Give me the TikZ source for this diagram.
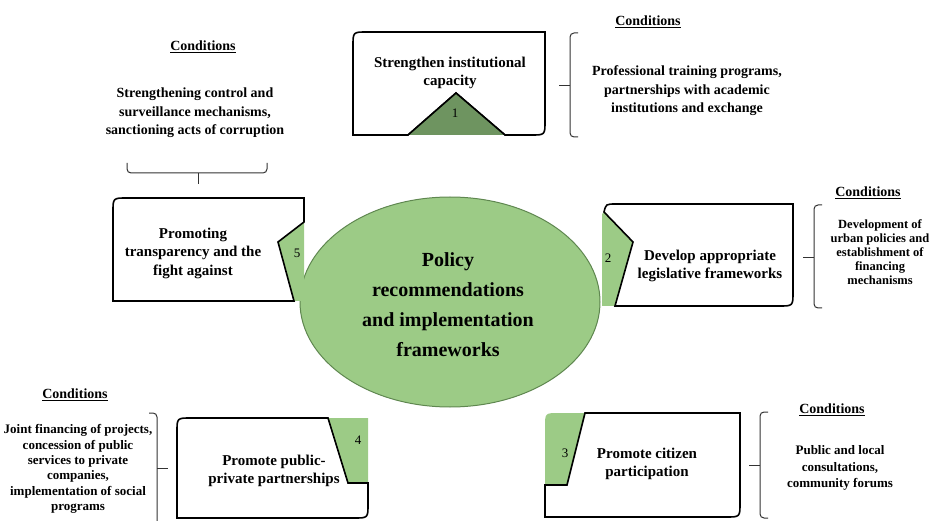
\documentclass[tikz,border=0pt]{standalone}
\usepackage{fontspec}
\setmainfont{Liberation Serif}
\usetikzlibrary{shapes.geometric}
\definecolor{lgreen}{RGB}{156,203,134}
\definecolor{dgreen}{RGB}{110,148,96}
\definecolor{egreen}{RGB}{95,135,80}
\newcommand\mybrcv[5]{% x, top, mid, bottom, hook dir(+1 = hooks right)
  \draw[brc] (#1+8*#5,#2) -- (#1,#2) -- (#1,#4) -- (#1+8*#5,#4);
  \draw[brc] (#1,#3) -- (#1-11*#5,#3);}
\begin{document}
\begin{tikzpicture}[x=1pt,y=-1pt,
  boxline/.style={draw=black, line width=1.6pt, fill=white, line join=miter},
  greenfill/.style={fill=lgreen},
  brc/.style={draw=black!80, line width=1pt, rounded corners=4pt},
  lbl/.style={font=\bfseries\fontsize{15}{18.5}\selectfont, align=center, inner sep=0pt},
  cond/.style={font=\bfseries\fontsize{14}{18.5}\selectfont, align=center, inner sep=0pt},
  ctitle/.style={font=\bfseries\fontsize{14}{17}\selectfont, inner sep=0pt},
  num/.style={font=\fontsize{13}{15}\selectfont, inner sep=0pt}]
\useasboundingbox (0,0) rectangle (932,521);

% central ellipse
\node[ellipse, minimum width=300pt, minimum height=210pt, fill=lgreen, draw=egreen, line width=1pt] (center) at (450,302) {};
\node[font=\bfseries\fontsize{20}{30}\selectfont, align=center, inner sep=0pt] (ctext) at (448,305)
  {Policy\\recommendations\\and implementation\\frameworks};

% box 1
\draw[boxline] (408,135) -- (353,135) -- (353,46) .. controls (353,32) .. (367,32) -- (545,32) -- (545,121) .. controls (545,135) .. (531,135) -- (505,135) -- (456,93) -- cycle;
\fill[dgreen] (408,135) -- (456,93) -- (505,135) -- cycle;
\draw[line width=1.6pt, line join=miter] (408,135) -- (456,93) -- (505,135);
\node[lbl] (b1) at (450,73) {Strengthen institutional\\capacity};
\node[num] (n1) at (455,113) {1};

% box 2
\fill[greenfill] (604,212) -- (633,242) -- (615,306) -- (602,306) -- (602,214) -- cycle;
\draw[boxline] (615,306) -- (633,242) -- (604,212) .. controls (606,204) .. (616,204) -- (793,204) -- (793,292) .. controls (793,306) .. (779,306) -- cycle;
\node[lbl] (b2) at (710,266) {Develop appropriate\\legislative frameworks};
\node[num] (n2) at (608,258) {2};

% box 3
\fill[greenfill] (585,413) -- (567,485) -- (545,485) -- (545,427) .. controls (545,413) .. (559,413) -- cycle;
\draw[boxline] (585,413) -- (740,413) -- (740,503) .. controls (740,517) .. (726,517) -- (545,517) -- (545,485) -- (567,485) -- cycle;
\node[lbl] (b3) at (647,464) {Promote citizen\\participation};
\node[num] (n3) at (565,453) {3};

% box 4
\fill[greenfill] (328,418) -- (368,418) -- (368,483) -- (348,483) -- cycle;
\draw[boxline] (328,418) -- (191,418) .. controls (177,418) .. (177,432) -- (177,518) -- (354,518) .. controls (368,518) .. (368,504) -- (368,483) -- (348,483) -- cycle;
\node[lbl] (b4) at (274,471) {Promote public-\\private partnerships};
\node[num] (n4) at (358,440) {4};

% box 5
\fill[greenfill] (304,222) -- (278,242) -- (294,301) -- (304,301) -- cycle;
\draw[boxline] (304,222) -- (304,198) -- (127,198) .. controls (113,198) .. (113,212) -- (113,301) -- (294,301) -- (278,242) -- cycle;
\node[lbl] (b5) at (193,253) {Promoting\\transparency and the\\fight against};
\node[num] (n5) at (297,253) {5};

% conditions 1
\node[ctitle] (t1) at (648,22) {\underline{Conditions}};
\node[cond] (c1) at (687,91) {Professional training programs,\\partnerships with academic\\institutions and exchange};
\mybrcv{570}{33}{86}{137}{1}

% conditions 2
\node[ctitle] (t2) at (868,193) {\underline{Conditions}};
\node[cond, font=\bfseries\fontsize{12.5}{14}\selectfont] (c2) at (880,252) {Development of\\urban policies and\\establishment of\\financing\\mechanisms};
\mybrcv{814}{205}{258}{308}{1}

% conditions 3
\node[ctitle] (t3) at (832,410) {\underline{Conditions}};
\node[cond, font=\bfseries\fontsize{13}{16.5}\selectfont] (c3) at (840,468) {Public and local\\consultations,\\community forums};
\mybrcv{760}{412}{465}{518}{1}

% conditions 4
\node[ctitle] (t4) at (75,395) {\underline{Conditions}};
\node[cond, font=\bfseries\fontsize{13}{15.3}\selectfont] (c4) at (78,469) {Joint financing of projects,\\concession of public\\services to private\\companies,\\implementation of social\\programs};
\mybrcv{157}{413}{468}{530}{-1}

% conditions 5
\node[ctitle] (t5) at (203,47) {\underline{Conditions}};
\node[cond] (c5) at (195,113) {Strengthening control and\\surveillance mechanisms,\\sanctioning acts of corruption};
\draw[brc] (127,163) -- (127,173) -- (267,173) -- (267,163);
\draw[brc] (198,173) -- (198,184);
\end{tikzpicture}
\end{document}
